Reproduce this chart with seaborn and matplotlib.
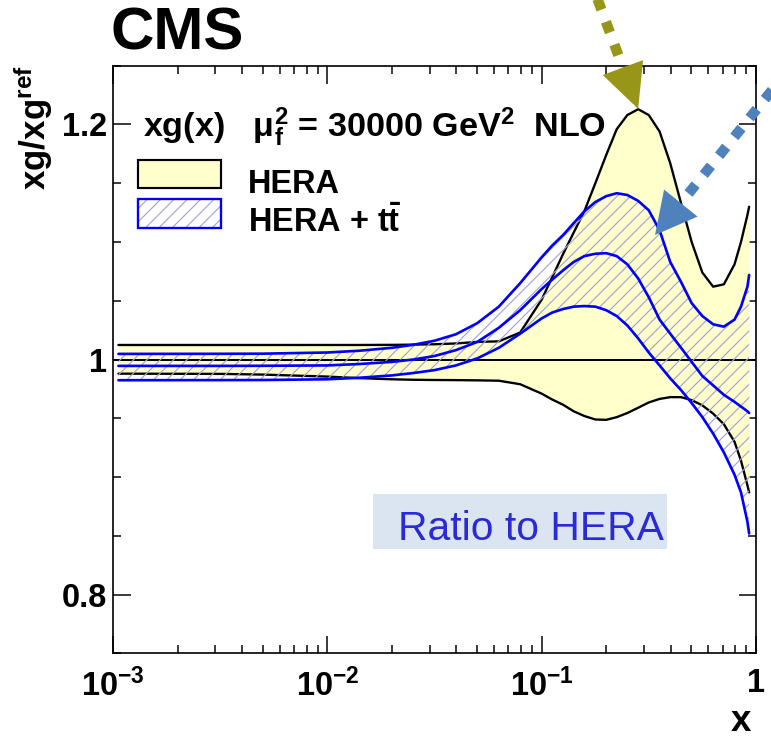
import numpy as np
import pandas as pd
import seaborn as sns
import matplotlib
matplotlib.use("Agg")
import matplotlib.pyplot as plt
from matplotlib.patches import Rectangle, Polygon
from matplotlib.lines import Line2D
from matplotlib.transforms import IdentityTransform
from matplotlib.ticker import FixedLocator, LogLocator, NullFormatter, MultipleLocator

# ---------------------------------------------------------------------------
# Gluon ratio xg/xg(HERA) at mu_f^2 = 30000 GeV^2 (NLO)
# ---------------------------------------------------------------------------
x_vals = [0.00106, 0.00316, 0.00501, 0.0100, 0.0141, 0.0200, 0.0251, 0.0316,
          0.0398, 0.0501, 0.0631, 0.0794, 0.100, 0.112, 0.126, 0.141, 0.158,
          0.178, 0.200, 0.224, 0.251, 0.282, 0.316, 0.355, 0.398, 0.447,
          0.501, 0.562, 0.631, 0.708, 0.794, 0.851, 0.912, 0.929]

# HERA uncertainty band (upper / lower edge)
hera_up = [1.0124, 1.0124, 1.0124, 1.0124, 1.0124, 1.0125, 1.0127, 1.0130,
           1.0137, 1.0150, 1.0155, 1.0230, 1.0510, 1.0700, 1.0900, 1.1080,
           1.1260, 1.1500, 1.1740, 1.1960, 1.2080, 1.2130, 1.2080, 1.1940,
           1.1670, 1.1330, 1.1000, 1.0740, 1.0620, 1.0640, 1.0810, 1.1000,
           1.1230, 1.1300]
hera_lo = [0.9880, 0.9878, 0.9872, 0.9855, 0.9842, 0.9832, 0.9828, 0.9826,
           0.9825, 0.9823, 0.9820, 0.9790, 0.9710, 0.9660, 0.9615, 0.9560,
           0.9520, 0.9490, 0.9487, 0.9510, 0.9545, 0.9590, 0.9635, 0.9665,
           0.9680, 0.9680, 0.9655, 0.9610, 0.9540, 0.9450, 0.9300, 0.9140,
           0.8930, 0.8870]

# HERA + ttbar: upper edge, central value, lower edge
tt_up = [1.0048, 1.0049, 1.0050, 1.0060, 1.0075, 1.0100, 1.0125, 1.0160,
         1.0215, 1.0310, 1.0450, 1.0650, 1.0870, 1.0970, 1.1060, 1.1160,
         1.1260, 1.1340, 1.1390, 1.1415, 1.1400, 1.1350, 1.1270, 1.1100,
         1.0830, 1.0660, 1.0480, 1.0370, 1.0300, 1.0280, 1.0340, 1.0450,
         1.0620, 1.0720]
tt_mid = [0.9946, 0.9946, 0.9947, 0.9950, 0.9962, 0.9980, 1.0000, 1.0030,
          1.0080, 1.0150, 1.0270, 1.0420, 1.0600, 1.0680, 1.0760, 1.0830,
          1.0880, 1.0900, 1.0905, 1.0880, 1.0810, 1.0690, 1.0530, 1.0340,
          1.0220, 1.0100, 0.9980, 0.9860, 0.9780, 0.9700, 0.9640, 0.9600,
          0.9560, 0.9545]
tt_lo = [0.9824, 0.9825, 0.9826, 0.9832, 0.9845, 0.9865, 0.9885, 0.9910,
         0.9950, 1.0010, 1.0100, 1.0220, 1.0350, 1.0400, 1.0430, 1.0450,
         1.0455, 1.0450, 1.0420, 1.0370, 1.0290, 1.0180, 1.0060, 0.9950,
         0.9840, 0.9740, 0.9630, 0.9510, 0.9370, 0.9210, 0.9020, 0.8870,
         0.8620, 0.8520]

x_ticks = [1e-3, 1e-2, 1e-1, 1.0]
x_tick_labels = [r"$10^{-3}$", r"$10^{-2}$", r"$10^{-1}$", "1"]
y_ticks = [0.8, 1.0, 1.2]
y_tick_labels = ["0.8", "1", "1.2"]

# points marked by the two call-out arrows (x, ratio)
hera_peak = (0.282, 1.2133)
tt_edge = (0.338, 1.106)

YELLOW = "#ffffcc"
HATCH = "#a3a3d6"
BLUE = "#0000ff"
OLIVE = "#979618"
STEEL = "#4f81bd"

# ---------------------------------------------------------------------------
sns.set_theme(style="ticks")
plt.rcParams.update({
    "font.family": ["Liberation Sans", "DejaVu Sans"],
    "font.weight": "bold",
    "text.color": "black",
    "axes.labelcolor": "black",
    "mathtext.fontset": "custom",
    "mathtext.rm": "Liberation Sans:bold",
    "mathtext.bf": "Liberation Sans:bold",
    "mathtext.it": "Liberation Sans:bold:italic",
    "mathtext.default": "rm",
    "hatch.linewidth": 0.7,
    "axes.edgecolor": "black",
    "axes.linewidth": 1.0,
    "xtick.color": "black",
    "ytick.color": "black",
    "xtick.labelcolor": "black",
    "ytick.labelcolor": "black",
})

W, H, DPI = 771, 744, 120
fig = plt.figure(figsize=(W / DPI, H / DPI), dpi=DPI, facecolor="white")
ax = fig.add_axes([113 / W, (H - 653.4) / H, 643 / W, 587.7 / H])
ax.set_facecolor("white")
ax.set_xscale("log")
ax.set_xlim(1e-3, 1.0)
ax.set_ylim(0.75, 1.25)

df_hera = pd.DataFrame({
    "x": x_vals * 2,
    "ratio": hera_up + hera_lo,
    "edge": ["up"] * len(x_vals) + ["lo"] * len(x_vals),
})
df_tt = pd.DataFrame({
    "x": x_vals * 3,
    "ratio": tt_up + tt_mid + tt_lo,
    "edge": ["up"] * len(x_vals) + ["mid"] * len(x_vals) + ["lo"] * len(x_vals),
})

# HERA band: filled, black edges, unit line
ax.fill_between(x_vals, hera_lo, hera_up, facecolor=YELLOW, linewidth=0, zorder=1)
sns.lineplot(data=df_hera, x="x", y="ratio", units="edge", estimator=None,
             color="black", lw=1.4, ax=ax, zorder=2, legend=False)
ax.axhline(1.0, color="black", lw=1.2, zorder=2)

# HERA + ttbar band: hatched, blue curves on top
ax.fill_between(x_vals, tt_lo, tt_up, facecolor="none", edgecolor=HATCH,
                hatch="///", linewidth=0, zorder=3)
sns.lineplot(data=df_tt, x="x", y="ratio", units="edge", estimator=None,
             color=BLUE, lw=1.6, ax=ax, zorder=4, legend=False)

ax.set_xlabel("")
ax.set_ylabel("")

# axes ticks in ROOT style
ax.xaxis.set_major_locator(FixedLocator(x_ticks))
ax.set_xticklabels(x_tick_labels)
ax.xaxis.set_minor_locator(LogLocator(base=10, subs=np.arange(2, 10)))
ax.xaxis.set_minor_formatter(NullFormatter())
ax.yaxis.set_major_locator(FixedLocator(y_ticks))
ax.set_yticklabels(y_tick_labels)
ax.yaxis.set_minor_locator(MultipleLocator(0.05))
ax.tick_params(which="both", direction="in", top=True, right=True, width=0.9,
               color="black", labelcolor="black")
ax.tick_params(which="major", length=10.5)
ax.tick_params(which="minor", length=5)
ax.tick_params(axis="y", which="major", pad=3.5, labelsize=19.5)
ax.tick_params(axis="x", which="major", pad=9, labelsize=19.5)
for s in ax.spines.values():
    s.set_visible(True)
    s.set_color("black")
    s.set_linewidth(1.0)

# header
ax.text(0.0467, 0.8787, r"xg(x)   $\mu_{f}^{2}$ = 30000 GeV$^{2}$  NLO",
        transform=ax.transAxes, fontsize=20.5, fontweight="bold",
        color="black", ha="left", va="baseline", zorder=6)

# legend
ax.add_patch(Rectangle((0.0384, 0.7924), 0.129, 0.0471, transform=ax.transAxes,
                       facecolor=YELLOW, edgecolor="black", lw=1.3,
                       clip_on=False, zorder=6))
ax.add_patch(Rectangle((0.0384, 0.7233), 0.129, 0.0493, transform=ax.transAxes,
                       facecolor="white", edgecolor=HATCH, hatch="///", lw=0,
                       clip_on=False, zorder=6))
ax.add_patch(Rectangle((0.0384, 0.7233), 0.129, 0.0493, transform=ax.transAxes,
                       facecolor="none", edgecolor=BLUE, lw=1.4,
                       clip_on=False, zorder=7))
ax.text(0.21, 0.7839, "HERA", transform=ax.transAxes, fontsize=19.5,
        fontweight="bold", color="black", ha="left", va="baseline", zorder=6)
ax.text(0.21, 0.7175, r"HERA + $t\bar{t}$", transform=ax.transAxes,
        fontsize=19.5, fontweight="bold", color="black", ha="left",
        va="baseline", zorder=6)

# ratio note
ax.add_patch(Rectangle((0.405, 0.1771), 0.4563, 0.0941, transform=ax.transAxes,
                       facecolor="#dbe5f1", edgecolor="none", zorder=5))
ax.text(0.4432, 0.193, "Ratio to HERA", transform=ax.transAxes, fontsize=24.5,
        fontweight="normal", color="#2a2ad6", ha="left", va="baseline", zorder=6)

# titles
fig.text(111 / W, (H - 50) / H, "CMS", fontsize=36, fontweight="bold",
         color="black", ha="left", va="baseline")
fig.text(34 / W, (H - 65) / H, r"xg/xg$^{ref}$", rotation=90, ha="center",
         va="top", fontsize=21, fontweight="bold", color="black")
fig.text(741 / W, (H - 731) / H, "x", ha="center", va="baseline",
         fontsize=22, fontweight="bold", color="black")


def dotted_arrow(tip, tail, color, head_len, head_w, lw):
    tip = np.asarray(tip, float)
    tail = np.asarray(tail, float)
    d = (tip - tail) / np.hypot(*(tip - tail))
    n = np.array([-d[1], d[0]])
    base = tip - d * head_len
    fig.add_artist(Line2D([tail[0], base[0]], [tail[1], base[1]],
                          transform=IdentityTransform(), color=color, lw=lw,
                          linestyle=(0, (1.1, 1.25)), dash_capstyle="butt",
                          zorder=10))
    fig.add_artist(Polygon([tip, base + n * head_w / 2, base - n * head_w / 2],
                           closed=True, transform=IdentityTransform(),
                           facecolor=color, edgecolor="none", zorder=11))


tip1 = ax.transData.transform(hera_peak)
tip2 = ax.transData.transform(tt_edge)
dotted_arrow(tip1, (596, H + 5), OLIVE, 44, 43, 6.2)
dotted_arrow(tip2, (790, H - 68), STEEL, 41, 43, 6.2)

fig.savefig("out.png", dpi=DPI, facecolor="white")
